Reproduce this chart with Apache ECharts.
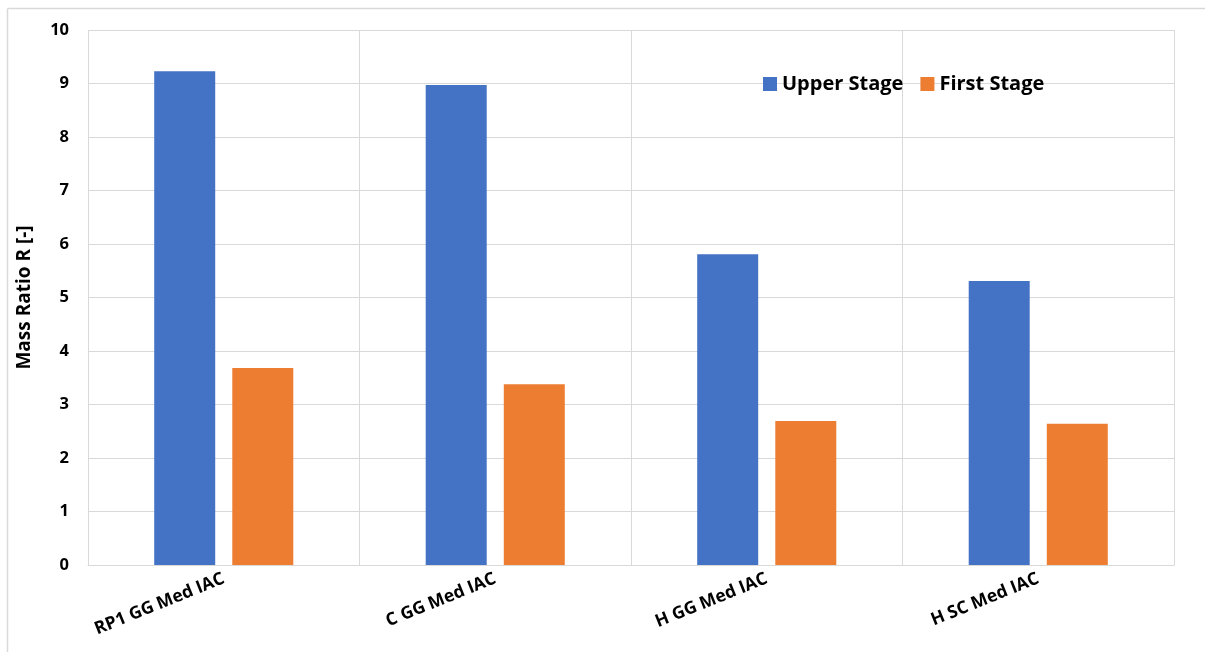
<!DOCTYPE html>
<html>
<head>
<meta charset="utf-8">
<script src="https://cdn.jsdelivr.net/npm/echarts@6/dist/echarts.min.js"></script>
<style>
  html, body { margin: 0; padding: 0; background: #ffffff; }
  #chart { width: 1205px; height: 652px; }
</style>
</head>
<body>
<div id="chart"></div>
<script>
// Engine configurations
const categories = ['RP1 GG Med IAC', 'C GG Med IAC', 'H GG Med IAC', 'H SC Med IAC'];
// Mass ratio per stage
const upperStage = [9.23, 8.97, 5.81, 5.31];
const firstStage = [3.68, 3.38, 2.69, 2.64];
const yTicks = [0, 1, 2, 3, 4, 5, 6, 7, 8, 9, 10];

const FONT = '"Open Sans", sans-serif';
const GRID_COLOR = '#d9d9d9';

const chart = echarts.init(document.getElementById('chart'), null, { renderer: 'canvas' });

chart.setOption({
  backgroundColor: '#ffffff',
  animation: false,
  graphic: [
    { type: 'line', shape: { x1: 7.5, y1: 8.5, x2: 1205, y2: 8.5 }, style: { stroke: GRID_COLOR, lineWidth: 1.5 } },
    { type: 'line', shape: { x1: 7.5, y1: 8.5, x2: 7.5, y2: 652 }, style: { stroke: GRID_COLOR, lineWidth: 1.5 } }
  ],
  grid: { left: 88, right: 31, top: 30, bottom: 87, containLabel: false },
  legend: {
    top: 69,
    left: 758,
    itemWidth: 14,
    itemHeight: 14,
    itemGap: 17,
    icon: 'rect',
    textStyle: { fontFamily: FONT, fontWeight: 'bold', fontSize: 20, color: '#000000' },
    data: ['Upper Stage', 'First Stage']
  },
  xAxis: {
    type: 'category',
    data: categories,
    axisLine: { show: true, lineStyle: { color: GRID_COLOR, width: 1 } },
    axisTick: { show: false },
    splitLine: { show: true, interval: 0, lineStyle: { color: GRID_COLOR, width: 1 } },
    axisLabel: {
      interval: 0,
      rotate: 22,
      margin: 13,
      fontFamily: FONT,
      fontWeight: 'bold',
      fontSize: 17.5,
      color: '#000000',
      padding: [0, 0, 0, 0]
    }
  },
  yAxis: {
    type: 'value',
    min: yTicks[0],
    max: yTicks[yTicks.length - 1],
    interval: 1,
    name: 'Mass Ratio R [-]',
    nameLocation: 'middle',
    nameGap: 54,
    nameTextStyle: { fontFamily: FONT, fontWeight: 'bold', fontSize: 19, color: '#000000' },
    axisLine: { show: false },
    axisTick: { show: false },
    splitLine: { show: true, lineStyle: { color: GRID_COLOR, width: 1 } },
    axisLabel: {
      margin: 19,
      fontFamily: FONT,
      fontWeight: 'bold',
      fontSize: 16.5,
      color: '#000000'
    }
  },
  series: [
    {
      name: 'Upper Stage',
      type: 'bar',
      data: upperStage,
      barWidth: 61,
      barGap: '28%',
      itemStyle: { color: '#4472c4' }
    },
    {
      name: 'First Stage',
      type: 'bar',
      data: firstStage,
      barWidth: 61,
      barGap: '28%',
      itemStyle: { color: '#ed7d31' }
    }
  ]
});
</script>
</body>
</html>
